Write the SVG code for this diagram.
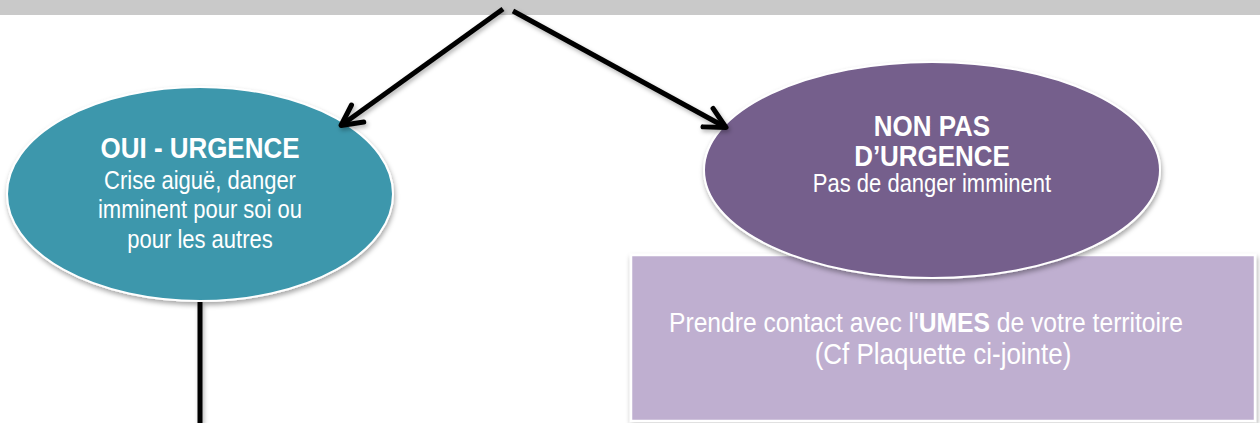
<svg xmlns="http://www.w3.org/2000/svg" width="1260" height="423" viewBox="0 0 1260 423">
  <style>
    .t { font-family: "Liberation Sans", Arial, sans-serif; fill: #ffffff; text-anchor: middle; }
    .title { font-size: 29.5px; font-weight: bold; }
    .body { font-size: 25px; }
    .box { font-size: 28px; }
    .conn { stroke: #000000; stroke-width: 5; fill: none; }
  </style>
  <defs>
    <filter id="sh" x="-10%" y="-10%" width="120%" height="130%">
      <feDropShadow dx="1" dy="3" stdDeviation="2.5" flood-color="#000000" flood-opacity="0.35"/>
    </filter>
    <filter id="shl" x="-20%" y="-20%" width="140%" height="140%">
      <feDropShadow dx="1.5" dy="2.5" stdDeviation="2" flood-color="#000000" flood-opacity="0.3"/>
    </filter>
    <marker id="arr" markerUnits="userSpaceOnUse" markerWidth="40" markerHeight="40" viewBox="-30 -20 40 40" refX="0" refY="0" orient="auto">
      <path d="M -20.5,-10.5 L 0,0 L -20.5,10.5" fill="none" stroke="#000000" stroke-width="5" stroke-linejoin="round" stroke-linecap="round"/>
    </marker>
  </defs>

  <rect x="0" y="0" width="1260" height="15" fill="#c9c9c9"/>

  <g id="box-umes">
    <rect x="631" y="255" width="624" height="166" fill="#bfafd0" stroke="#ffffff" stroke-width="2.5" filter="url(#sh)"/>
    <text class="t box" transform="translate(926 0) scale(0.88 1)" x="0" y="332">Prendre contact avec l'<tspan font-weight="bold">UMES</tspan> de votre territoire</text>
    <text class="t box" transform="translate(943 0) scale(0.88 1)" x="0" y="364" style="font-size:29.5px">(Cf Plaquette ci-jointe)</text>
  </g>

  <g id="node-oui">
    <ellipse cx="200" cy="194" rx="193" ry="107" fill="#3d97ac" stroke="#ffffff" stroke-width="2" filter="url(#sh)"/>
    <g transform="translate(200 0) scale(0.88 1)">
      <text class="t title" x="0" y="158">OUI - URGENCE</text>
      <text class="t body" x="0" y="189">Crise aiguë, danger</text>
      <text class="t body" x="0" y="218">imminent pour soi ou</text>
      <text class="t body" x="0" y="248">pour les autres</text>
    </g>
  </g>

  <g id="node-non">
    <ellipse cx="932" cy="170" rx="228" ry="108" fill="#745e8c" stroke="#ffffff" stroke-width="2" filter="url(#sh)"/>
    <g transform="translate(932 0) scale(0.88 1)">
      <text class="t title" x="0" y="136">NON PAS</text>
      <text class="t title" x="0" y="166">D’URGENCE</text>
      <text class="t body" x="0" y="192">Pas de danger imminent</text>
    </g>
  </g>

  <g id="connectors" filter="url(#shl)">
    <line class="conn" x1="503" y1="9" x2="341" y2="125.5" marker-end="url(#arr)"/>
    <line class="conn" x1="513" y1="11" x2="726" y2="127.5" marker-end="url(#arr)"/>
    <line class="conn" x1="200" y1="302" x2="200" y2="423" stroke-width="6"/>
  </g>
</svg>
